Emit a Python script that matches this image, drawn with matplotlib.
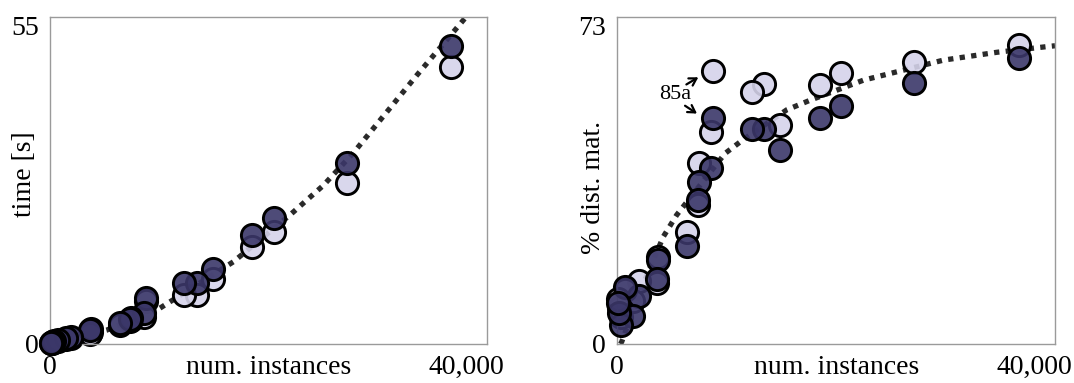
import matplotlib
matplotlib.use("Agg")
import matplotlib.pyplot as plt


# one entry per dataset, x shared by both panels
num_instances = [38500, 28500, 21500, 19450, 15650, 14100, 12900, 9200, 9000, 7800,
                 7700, 6700, 3950, 3850, 2050, 1550, 750, 400, 150, 50]

# left panel: time [s]
time_dark = [51.5, 31.2, 21.7, 18.8, 13.0, 10.6, 10.5, 7.9, 5.3, 4.5,
             4.4, 3.6, 2.6, 2.4, 1.2, 1.0, 0.7, 0.5, 0.3, 0.2]
time_light = [47.8, 27.8, 19.3, 16.7, 11.3, 8.4, 8.4, 7.4, 4.7, 4.1,
              4.0, 3.3, 2.0, 1.8, 1.0, 0.9, 0.6, 0.4, 0.25, 0.15]

# right panel: % dist. mat.
dist_dark = [65.7, 59.8, 54.6, 51.9, 44.5, 49.2, 49.2, 51.9, 40.3, 37.2,
             33.1, 22.5, 19.3, 14.8, 11.0, 6.5, 13.1, 4.3, 7.2, 9.3]
dist_light = [68.6, 64.6, 62.2, 59.3, 50.2, 59.6, 57.8, 62.6, 48.7, 41.6,
              31.8, 25.8, 20.0, 13.9, 14.5, 9.8, 12.3, 6.2, 8.2, 10.3]

# dotted trend lines
time_trend_x = [0, 2600, 5450, 10570, 17620, 23070, 26270, 29150, 35240, 39890, 40300]
time_trend_y = [0, 1.0, 2.4, 6.2, 14.2, 22.3, 27.4, 33.0, 46.4, 56.3, 57.2]
dist_trend_x = [300, 422, 1500, 2700, 4414, 5700, 10334, 12090, 16255, 18490, 23605,
                31280, 36405, 41200, 42000]
dist_trend_y = [0, 0.5, 7.6, 15.0, 24.6, 29.6, 43.7, 46.9, 53.7, 55.9, 60.5,
                65.1, 66.9, 68.2, 68.4]

X_MAX = 42000
X_TICKS = [0, 40000]
X_TICKLABELS = ["0", "40,000"]

DARK = (0.231, 0.216, 0.412, 0.9)
LIGHT = (0.835, 0.827, 0.918, 0.9)
FS = 20

plt.rcParams["font.family"] = ["Liberation Serif", "DejaVu Serif"]

fig = plt.figure(figsize=(10.74, 3.83), dpi=100)
ax1 = fig.add_axes([0.04655, 0.10183, 0.40689, 0.85379])
ax2 = fig.add_axes([0.57477, 0.10183, 0.40754, 0.85379])


def draw_panel(ax, dark, light, tx, ty, ymax, ylabel, ylab_x, ylab_y):
    ax.plot(tx, ty, color="#2a2a2a", lw=3.8, linestyle=(0, (1, 1.2)), zorder=1)
    ax.scatter(num_instances, light, s=255, facecolor=LIGHT, edgecolor="black",
               linewidth=2.1, zorder=2, clip_on=False)
    ax.scatter(num_instances, dark, s=255, facecolor=DARK, edgecolor="black",
               linewidth=2.1, zorder=3, clip_on=False)
    ax.set_xlim(0, X_MAX)
    ax.set_ylim(0, ymax)
    ax.set_xticks(X_TICKS)
    ax.set_xticklabels(X_TICKLABELS, fontsize=FS)
    yt = [0, int(round(ymax * 0.9735))]
    ax.set_yticks(yt)
    ax.set_yticklabels([str(v) for v in yt], fontsize=FS)
    ax.tick_params(axis="x", length=0, pad=8)
    ax.tick_params(axis="y", length=0, pad=8)
    for sp in ax.spines.values():
        sp.set_color("#9a9a9a")
        sp.set_linewidth(1)
    ax.set_xlabel("num. instances", fontsize=FS)
    ax.xaxis.set_label_coords(0.5, -0.035)
    ax.set_ylabel(ylabel, fontsize=FS)
    ax.yaxis.set_label_coords(ylab_x, ylab_y)


draw_panel(ax1, time_dark, time_light, time_trend_x, time_trend_y, 56.5,
           "time [s]", -0.03, 0.52)
draw_panel(ax2, dist_dark, dist_light, dist_trend_x, dist_trend_y, 75,
           "% dist. mat.", -0.025, 0.48)

# label for the 85a pair
ax2.text(5537, 57.3, "85a", fontsize=16, ha="center", va="center")
ax2.annotate("", xy=(8003, 61.5), xytext=(6400, 59.2),
             arrowprops=dict(arrowstyle="->,head_length=0.5,head_width=0.3",
                             lw=1.6, color="black"))
ax2.annotate("", xy=(7869, 52.5), xytext=(6276, 55.0),
             arrowprops=dict(arrowstyle="->,head_length=0.5,head_width=0.3",
                             lw=1.6, color="black"))

fig.savefig("out.png", dpi=100)
